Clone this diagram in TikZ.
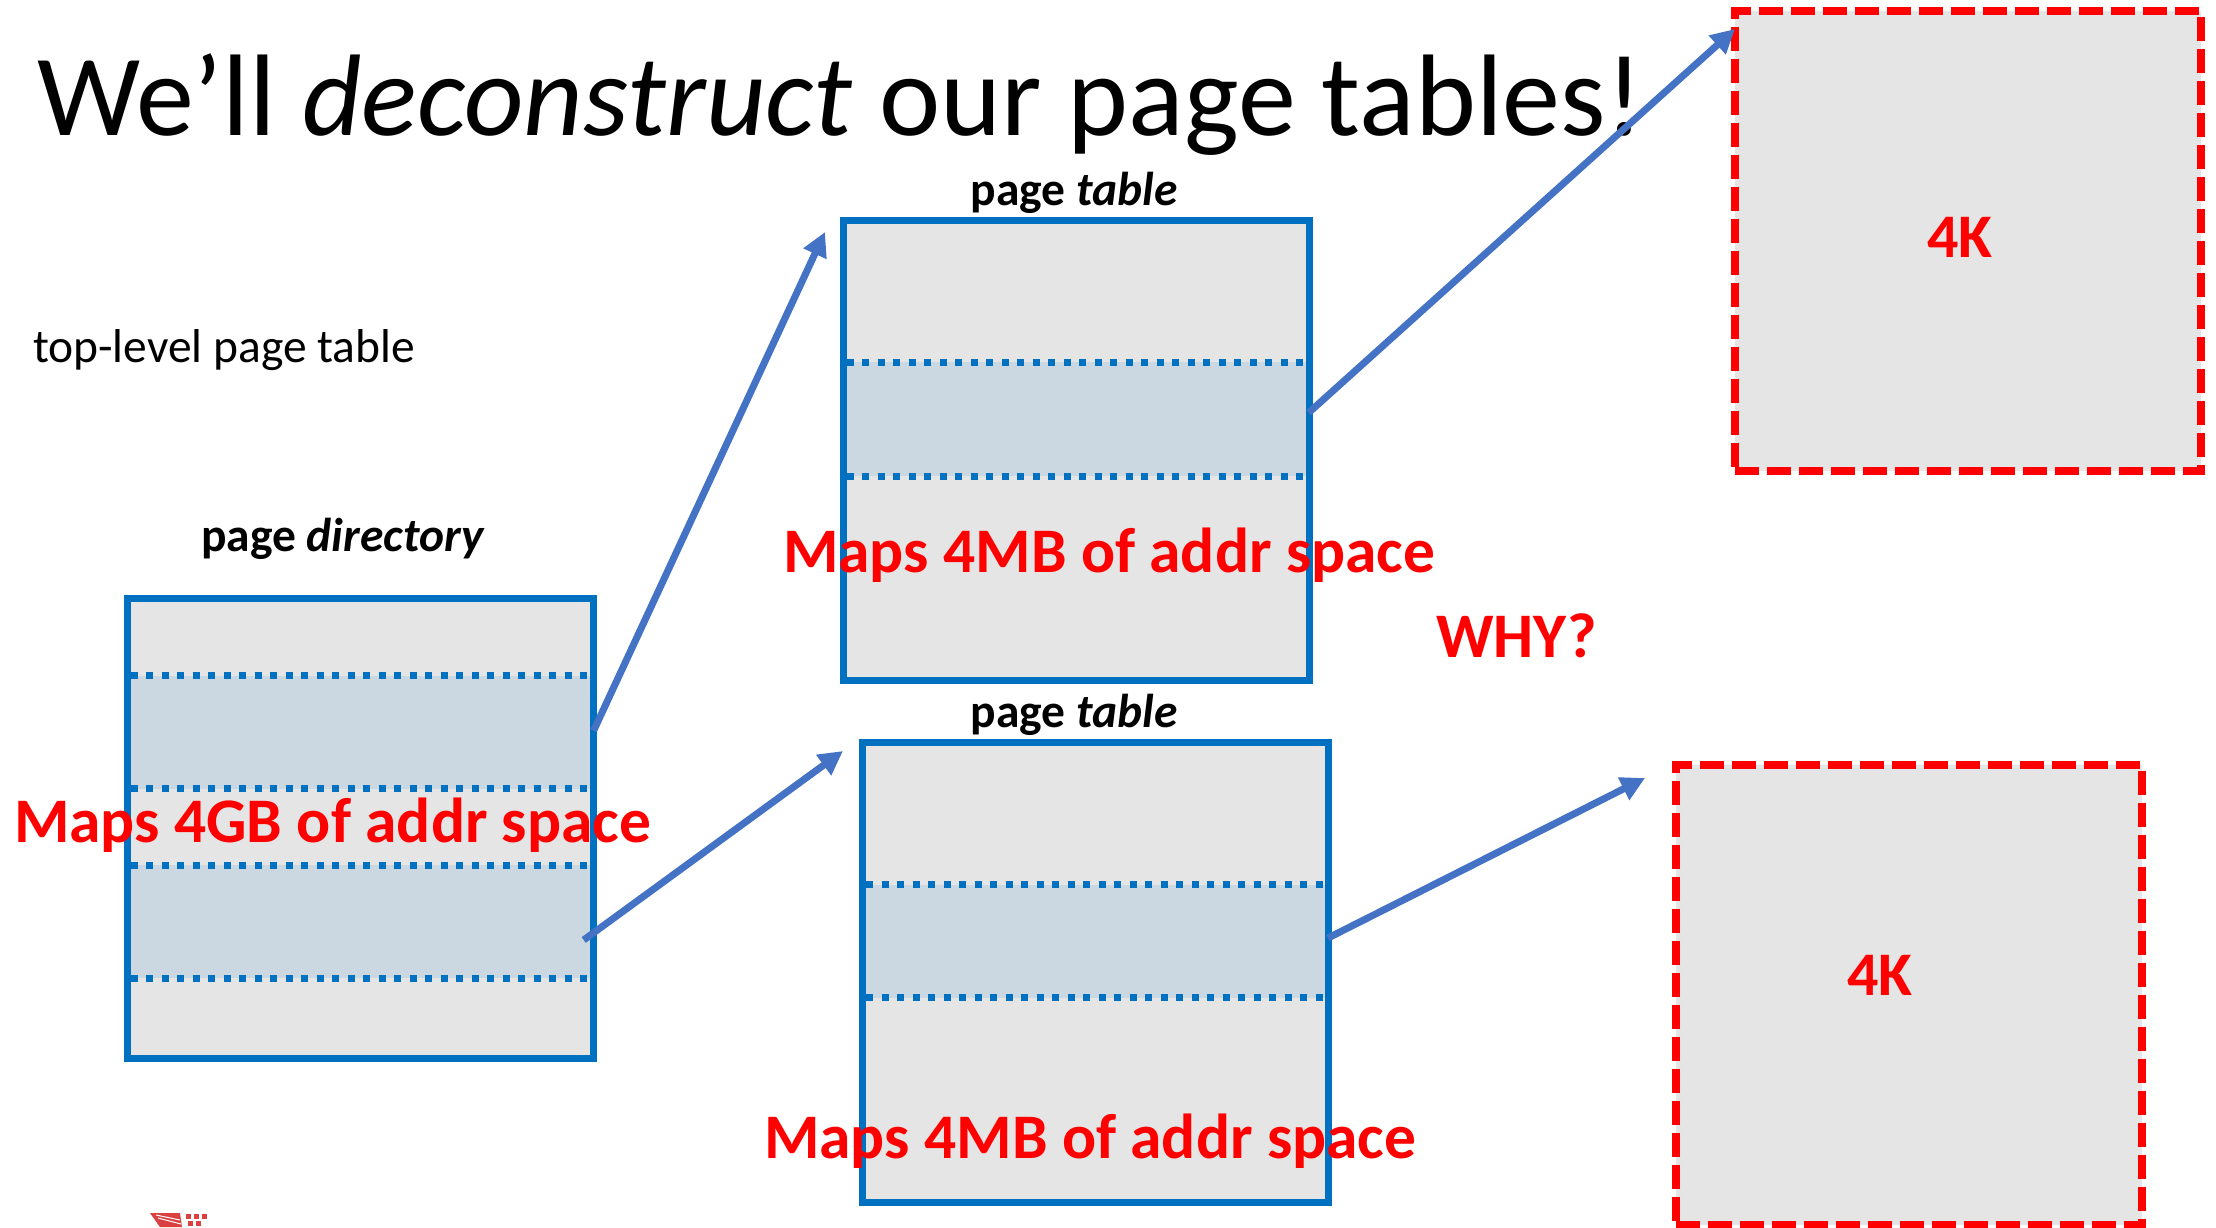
\documentclass[tikz,border=0pt]{standalone}
\usepackage{fontspec}
\setmainfont{Carlito}
\usetikzlibrary{arrows.meta}
\definecolor{boxblue}{HTML}{0070C0}
\definecolor{arrowblue}{HTML}{4472C4}
\definecolor{boxgray}{HTML}{E5E5E5}
\definecolor{bandblue}{HTML}{CBD7E1}
\definecolor{myred}{HTML}{FF0000}
\definecolor{logored}{HTML}{D9403F}
\tikzset{
  pbox/.style={draw=boxblue, line width=7pt, fill=boxgray, minimum width=466pt, minimum height=460pt, inner sep=0pt, outer sep=0pt},
  kbox/.style={draw=myred, line width=8pt, dash pattern=on 24pt off 8pt, fill=boxgray, minimum width=466pt, minimum height=460pt, inner sep=0pt, outer sep=0pt},
  dotline/.style={draw=boxblue, line width=7pt, dash pattern=on 7pt off 8.5pt},
  bandfill/.style={fill=bandblue},
  conn/.style={draw=arrowblue, line width=7pt, -{Triangle[length=24pt,width=24pt]}},
  lbl/.style={anchor=base west, inner sep=0pt, outer sep=0pt},
  clbl/.style={anchor=base, inner sep=0pt, outer sep=0pt},
  titlefont/.style={font=\fontsize{116}{139}\selectfont},
  smallfont/.style={font=\fontsize{47.5}{57}\selectfont},
  redfont/.style={font=\fontsize{63.5}{76}\selectfont\bfseries, text=myred},
  kfont/.style={font=\fontsize{62}{74}\selectfont\bfseries, text=myred},
}
\newcommand\mkband[3]{%
  \fill[bandfill] ([shift={(3.5,#2)}]#1.north west) rectangle ([shift={(-3.5,#3)}]#1.north east);%
  \draw[dotline] ([shift={(3.5,#2)}]#1.north west) -- ([shift={(-3.5,#2)}]#1.north east);%
  \draw[dotline] ([shift={(3.5,#3)}]#1.north west) -- ([shift={(-3.5,#3)}]#1.north east);%
}
\begin{document}
\begin{tikzpicture}[x=1pt,y=-1pt]
\useasboundingbox (0,0) rectangle (2216,1227);
\fill[white] (0,0) rectangle (2216,1227);

% title and plain labels
\node[lbl, titlefont] (title) at (37,135) {We’ll \textit{deconstruct} our page tables!};
\node[lbl, smallfont] (toplevel) at (33,362) {top-level page table};

% boxes
\node[pbox] (pd) at (360,828) {};
\node[pbox] (pt1) at (1076,450) {};
\node[pbox] (pt2) at (1095.5,972.5) {};
\node[kbox] (k1) at (1967.5,240.5) {};
\node[kbox] (k2) at (1908.5,994.5) {};

% shaded entries
\mkband{pd}{77.5}{190.6}
\mkband{pd}{267}{380}
\mkband{pt1}{142}{256}
\mkband{pt2}{142}{255}

% box titles
\node[clbl, smallfont] (pdlbl) at (343,551) {\textbf{page \textit{directory}}};
\node[clbl, smallfont] (pt1lbl) at (1074,205) {\textbf{page \textit{table}}};
\node[clbl, smallfont] (pt2lbl) at (1074,727) {\textbf{page \textit{table}}};

% arrow end points
\coordinate (a1s) at (593.6,730.7);
\coordinate (a1e) at (825,232);
\coordinate (a2s) at (583.7,940);
\coordinate (a2e) at (843,751);
\coordinate (a3s) at (1308.7,412.7);
\coordinate (a3e) at (1735,29);
\coordinate (a4s) at (1328,938);
\coordinate (a4e) at (1645,778);
\draw[conn] (a1s) -- (a1e);
\draw[conn] (a2s) -- (a2e);
\draw[conn] (a3s) -- (a3e);
\draw[conn] (a4s) -- (a4e);

% red labels
\node[lbl, redfont] (m4gb) at (14,842) {Maps 4GB of addr space};
\node[lbl, redfont] (m4mb1) at (783,572) {Maps 4MB of addr space};
\node[lbl, redfont] (m4mb2) at (764,1158) {Maps 4MB of addr space};
\node[lbl, redfont] (why) at (1436,657) {WHY?};
\node[lbl, kfont] (k1lbl) at (1927,257) {4K};
\node[lbl, kfont] (k2lbl) at (1847,995) {4K};

% partial logo at the bottom edge
\fill[logored] (150,1213) -- (180,1213) -- (182,1227) -- (160,1227) -- cycle;
\draw[white, line width=1pt] (156,1215) -- (180,1220);
\draw[white, line width=1pt] (158,1218) -- (181,1224);
\foreach \xx/\yy in {186/1214,194/1214,202/1214,188/1221,196/1221} {
  \fill[logored] (\xx,\yy) rectangle ++(5,5);
}
\end{tikzpicture}
\end{document}
